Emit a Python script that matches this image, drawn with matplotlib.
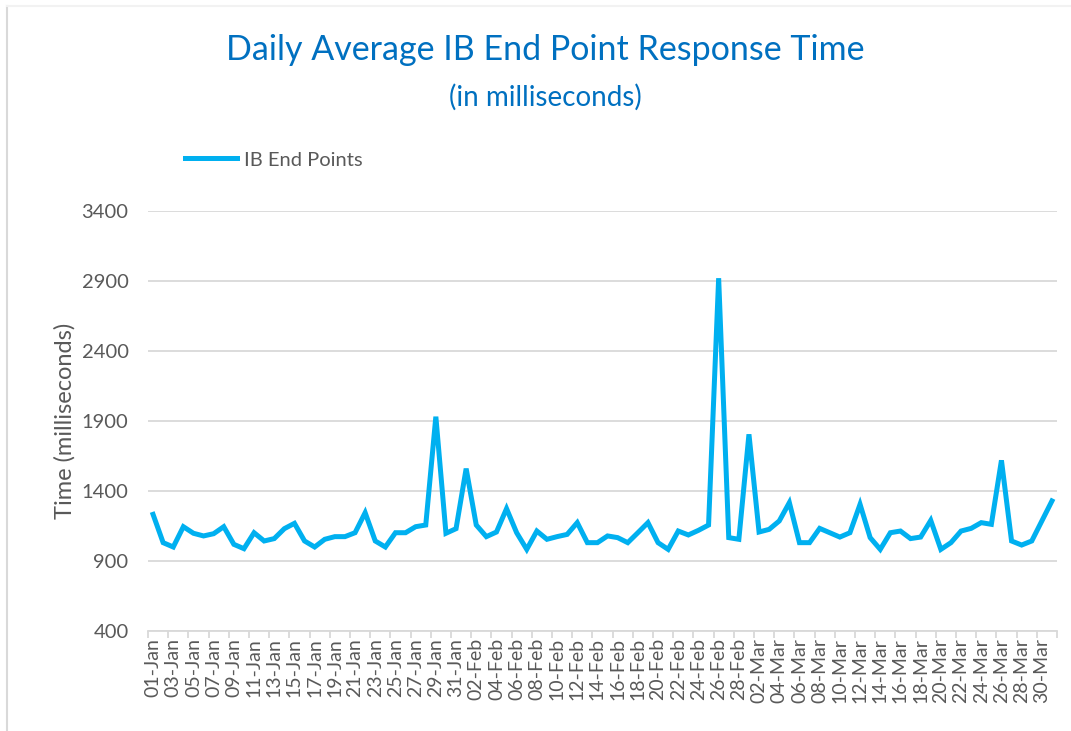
import pandas as pd
import matplotlib.pyplot as plt
from matplotlib.lines import Line2D

# daily average response time (ms), 01-Jan .. 31-Mar
response_ms = [
    1233, 1031, 1000, 1145, 1098, 1079, 1095, 1145, 1019, 988,
    1102, 1043, 1060, 1131, 1169, 1043, 1000, 1055, 1074, 1074,
    1102, 1245, 1043, 1000, 1102, 1102, 1145, 1157, 1931, 1098,
    1131, 1560, 1157, 1074, 1107, 1274, 1102, 983, 1114, 1055,
    1074, 1090, 1174, 1031, 1031, 1079, 1067, 1031, 1102, 1174,
    1031, 983, 1114, 1086, 1119, 1157, 2920, 1067, 1055, 1805,
    1107, 1126, 1186, 1317, 1031, 1031, 1133, 1102, 1071, 1102,
    1305, 1067, 983, 1102, 1114, 1060, 1071, 1190, 983, 1031,
    1114, 1133, 1174, 1162, 1619, 1043, 1014, 1043, 1186, 1329,
]
days = pd.date_range("2019-01-01", "2019-03-31", freq="D")
day_labels = [d.strftime("%d-%b") for d in days]
y_ticks = [400, 900, 1400, 1900, 2400, 2900, 3400]

FONT = "Lato"
GRAY = "#595959"
BLUE = "#00B0F0"
TITLE_BLUE = "#0070C0"

fig = plt.figure(figsize=(10.71, 7.31), dpi=100)
ax = fig.add_axes([148 / 1071, 1 - 631 / 731, (1057 - 148) / 1071, (631 - 211) / 731])

x = list(range(len(response_ms)))
ax.plot(x, response_ms, color=BLUE, linewidth=3.6, solid_joinstyle="miter",
        label="IB End Points")

ax.set_ylim(400, 3400)
ax.set_yticks(y_ticks)
ax.set_yticklabels([str(v) for v in y_ticks], fontsize=14.5, color=GRAY, family=FONT)
ax.tick_params(axis="y", length=0, pad=14)
ax.grid(axis="y", color="#D9D9D9", linewidth=1.3)
ax.set_axisbelow(True)

ax.set_xlim(-0.5, len(x) - 0.5)
ax.set_xticks([i - 0.5 for i in range(0, len(x) + 1, 2)])
ax.set_xticklabels([])
ax.tick_params(axis="x", which="major", length=5, color="#D9D9D9", width=1.3)
ax.set_xticks(x[::2], minor=True)
ax.set_xticklabels(day_labels[::2], minor=True, rotation=90, fontsize=14,
                   color=GRAY, family=FONT)
ax.tick_params(axis="x", which="minor", length=0, pad=5)

for s in ["top", "right", "left"]:
    ax.spines[s].set_visible(False)
ax.spines["bottom"].set_color("#D9D9D9")
ax.spines["bottom"].set_linewidth(1.3)

ax.set_ylabel("Time (milliseconds)", fontsize=17, color=GRAY, family=FONT)
ax.yaxis.set_label_coords(-0.08, 0.5)

fig.text(545 / 1071, 1 - 50 / 731, "Daily Average IB End Point Response Time",
         ha="center", va="center", fontsize=24.5, color=TITLE_BLUE, family=FONT)
fig.text(545 / 1071, 1 - 97 / 731, "(in milliseconds)",
         ha="center", va="center", fontsize=20, color=TITLE_BLUE, family=FONT)

leg = ax.legend(loc="center left", bbox_to_anchor=(185 / 1071, 1 - 160 / 731),
                bbox_transform=fig.transFigure, frameon=False, borderpad=0,
                borderaxespad=0, handlelength=2.6, handletextpad=0.35,
                prop={"family": FONT, "size": 14.5})
for t in leg.get_texts():
    t.set_color(GRAY)

# chart area border (left and top only visible)
fig.add_artist(Line2D([6.5 / 1071, 6.5 / 1071], [0, 1 - 6 / 731],
                      transform=fig.transFigure, color="#D9D9D9", linewidth=1.5))
fig.add_artist(Line2D([6.5 / 1071, 1], [1 - 6 / 731, 1 - 6 / 731],
                      transform=fig.transFigure, color="#F2F2F2", linewidth=1.5))

fig.savefig("out.png", dpi=100)
